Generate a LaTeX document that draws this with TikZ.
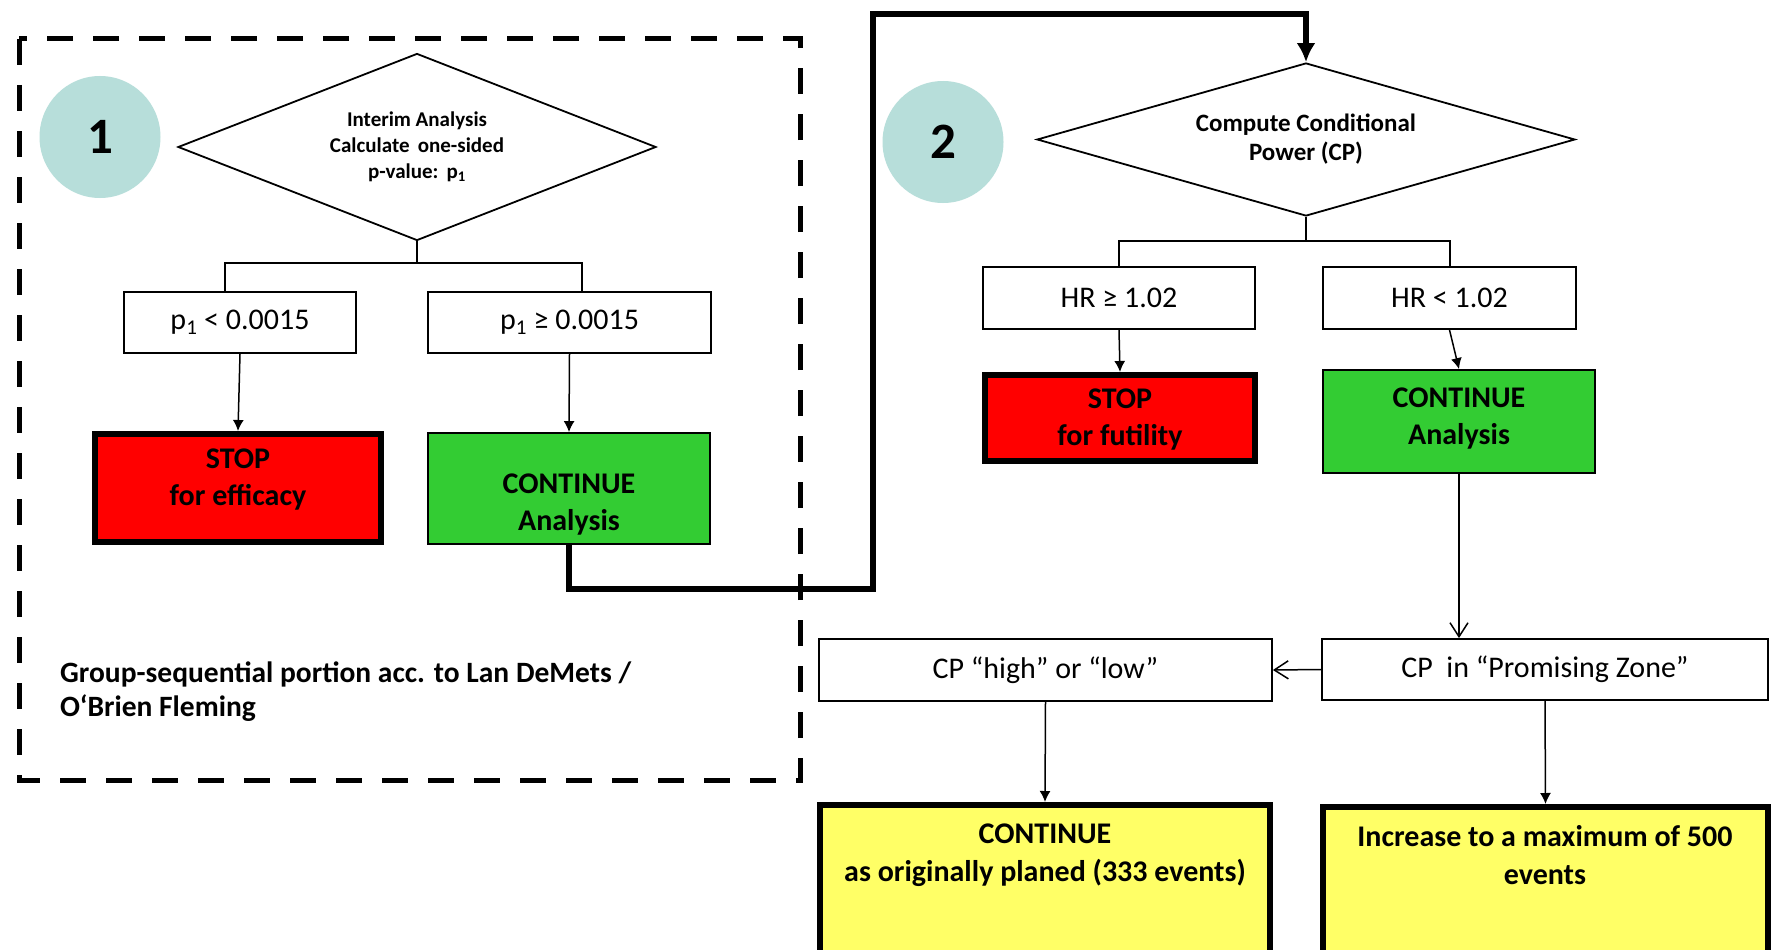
\documentclass[tikz,border=0pt]{standalone}
\usepackage{fontspec}
\setmainfont{Carlito}
\usetikzlibrary{arrows.meta,shapes.geometric}
\definecolor{circfill}{HTML}{B7DEDA}
\definecolor{stopred}{HTML}{FF0000}
\definecolor{gogreen}{HTML}{33CC33}
\definecolor{yelfill}{HTML}{FFFF66}
\tikzset{
  box/.style={draw, line width=1.8pt, inner sep=0pt, fill=white, font=\fontsize{30}{36}\selectfont},
  stopbox/.style={draw, line width=6pt, inner sep=0pt, fill=stopred},
  gobox/.style={draw, line width=1.8pt, inner sep=0pt, fill=gogreen},
  yelbox/.style={draw, line width=6pt, inner sep=0pt, fill=yelfill},
  btxt/.style={inner sep=0pt, align=center, font=\fontsize{30}{37}\selectfont\bfseries},
  decision/.style={draw, line width=1.8pt, shape=diamond, inner sep=0pt, fill=white, align=center},
  numcirc/.style={shape=ellipse, fill=circfill, inner sep=0pt, font=\fontsize{51}{60}\selectfont\bfseries},
  link/.style={line width=1.8pt},
  arr/.style={line width=1.5pt, -{Latex[length=11pt,width=11pt]}},
  openarr/.style={line width=1.5pt, -{Straight Barb[length=14pt,width=18pt,line width=1.5pt]}},
  bigarr/.style={line width=6pt, -{Latex[length=19pt,width=19pt]}},
  frame/.style={line width=5pt, dash pattern=on 26pt off 20pt}
}
\begin{document}
\begin{tikzpicture}[x=1pt,y=-1pt]
\clip (0,0) rectangle (1773,950);
\fill[white] (0,0) rectangle (1773,950);

% dashed frame of the group-sequential part
\draw[frame] (19,39) rectangle (800,780);

% ---- part 1
\node[numcirc, minimum width=121pt, minimum height=122pt] (c1) at (100,137) {1};
\node[decision, aspect=2.56, minimum width=478pt, minimum height=187pt,
      font=\fontsize{21}{26}\selectfont\bfseries] (dia1) at (417,147)
      {Interim Analysis\\Calculate\ \,one-sided\\p-value:\ \,p\textsubscript{1}};
\node[box, minimum width=232pt, minimum height=61pt] (p1lt) at (240,322.5) {p\textsubscript{1} < 0.0015};
\node[box, minimum width=283pt, minimum height=61pt] (p1ge) at (569.5,322.5) {p\textsubscript{1} ≥ 0.0015};
\node[stopbox, minimum width=286pt, minimum height=108pt] (stop1) at (238,488) {};
\node[btxt] (stop1t) at (238,480) {STOP\\for efficacy};
\node[gobox, minimum width=282pt, minimum height=111pt] (cont1) at (569,488.5) {};
\node[btxt] (cont1t) at (569,505) {CONTINUE\\Analysis};

\coordinate (k1) at (225,263);
\coordinate (k2) at (582,263);
\draw[link] (dia1.south) |- (k1) -- (k1 |- p1lt.north);
\draw[link] (k1) -- (k2) -- (k2 |- p1ge.north);
\draw[arr] (p1lt.south) -- (stop1.north);
\draw[arr] (p1ge.south) -- (cont1.north);

\node[inner sep=0pt, anchor=north west, align=left, font=\fontsize{29.5}{34}\selectfont\bfseries] (gstxt) at (60,662)
  {Group-sequential portion acc. to Lan DeMets /\\O‘Brien Fleming};

% ---- part 2
\node[numcirc, minimum width=121pt, minimum height=122pt] (c2) at (943,142) {2};
\node[decision, aspect=3.5, minimum width=538pt, minimum height=153pt,
      font=\fontsize{25}{29}\selectfont\bfseries] (dia2) at (1306,139.5)
      {Compute Conditional\\Power (CP)};

\path (cont1.south) ++(0,44) coordinate (w1);
\coordinate (w2) at (873,14);
\draw[bigarr] (cont1.south) -- (w1) -| (w2) -| (dia2.north);

\node[box, minimum width=272pt, minimum height=62pt] (hrge) at (1119,298) {HR ≥ 1.02};
\node[box, minimum width=253pt, minimum height=62pt] (hrlt) at (1449.5,298) {HR < 1.02};
\coordinate (k3) at (1119,241);
\coordinate (k4) at (1450,241);
\draw[link] (dia2.south) |- (k3) -- (k3 |- hrge.north);
\draw[link] (k3) -- (k4) -- (k4 |- hrlt.north);

\node[stopbox, minimum width=270pt, minimum height=86pt] (stop2) at (1120,418) {};
\node[btxt] (stop2t) at (1120,420) {STOP\\for futility};
\node[gobox, minimum width=272pt, minimum height=103pt] (cont2) at (1459,421.5) {};
\node[btxt] (cont2t) at (1459,419) {CONTINUE\\Analysis};
\draw[arr] (hrge.south) -- (stop2.north);
\draw[arr] (hrlt.south) -- (cont2.north);

\node[box, minimum width=446pt, minimum height=61pt] (prom) at (1545,669.5) {CP\ \ in “Promising Zone”};
\node[box, minimum width=453pt, minimum height=62pt] (hilo) at (1045.5,670) {CP “high” or “low”};
\draw[openarr] (cont2.south) -- (cont2.south |- prom.north);
\draw[openarr] (prom.west) -- (hilo.east);

\node[yelbox, minimum width=450pt, minimum height=195pt] (y1) at (1045,902.5) {};
\node[btxt, font=\fontsize{30}{38}\selectfont\bfseries] (y1t) at (1045,855) {CONTINUE\\as originally planed (333 events)};
\node[yelbox, minimum width=445pt, minimum height=193pt] (y2) at (1545.5,903.5) {};
\node[btxt, font=\fontsize{30}{38}\selectfont\bfseries] (y2t) at (1545,855) {Increase to a maximum of 500\\events};
\draw[arr] (hilo.south) -- (y1.north);
\draw[arr] (prom.south) -- (y2.north);
\end{tikzpicture}
\end{document}
